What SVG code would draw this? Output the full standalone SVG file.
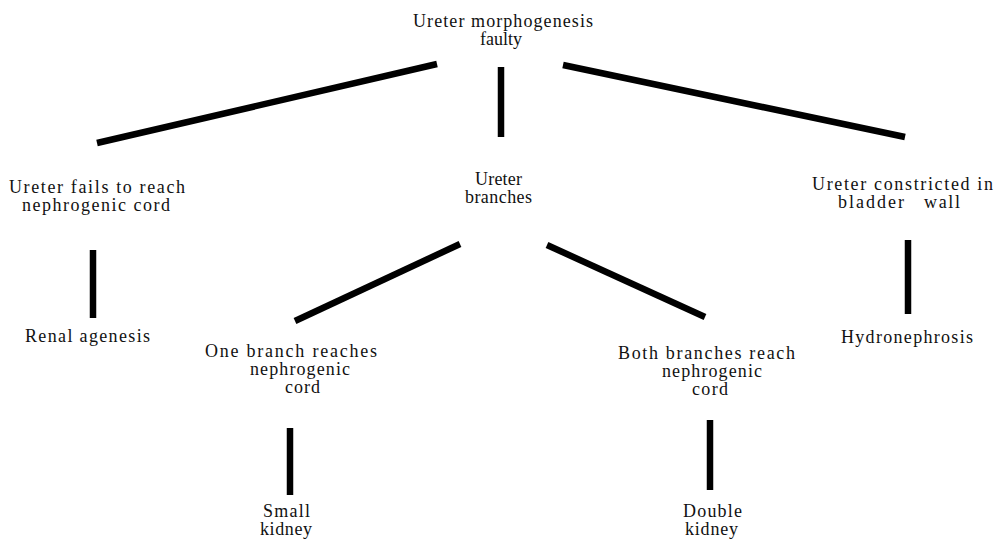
<svg xmlns="http://www.w3.org/2000/svg" width="1000" height="541" viewBox="0 0 1000 541">
<style>
text{font-family:"Liberation Serif","Times New Roman",serif;font-size:18px;fill:#111;}
.c line{stroke:#000;stroke-width:6.5;stroke-linecap:butt;}
</style>
<rect width="1000" height="541" fill="#fff"/>
<g class="c" id="connectors">
<line x1="97" y1="143" x2="437" y2="64"/>
<line x1="501" y1="67" x2="501" y2="137"/>
<line x1="563" y1="65" x2="905" y2="137"/>
<line x1="93" y1="250" x2="93" y2="318"/>
<line x1="295" y1="321" x2="460" y2="244"/>
<line x1="547" y1="245" x2="705" y2="317"/>
<line x1="908" y1="240" x2="908" y2="314"/>
<line x1="290" y1="428" x2="290" y2="495"/>
<line x1="710" y1="420" x2="710" y2="490"/>
</g>
<g id="root">
<text x="413" y="27" textLength="180" lengthAdjust="spacing">Ureter morphogenesis</text>
<text x="480" y="45" textLength="42" lengthAdjust="spacing">faulty</text>
</g>
<g id="fails">
<text x="9" y="193" textLength="176" lengthAdjust="spacing">Ureter fails to reach</text>
<text x="22" y="211" textLength="148" lengthAdjust="spacing">nephrogenic cord</text>
</g>
<g id="branches">
<text x="475" y="185" textLength="47" lengthAdjust="spacing">Ureter</text>
<text x="465" y="203" textLength="67" lengthAdjust="spacing">branches</text>
</g>
<g id="constricted">
<text x="812" y="190" textLength="181" lengthAdjust="spacing">Ureter constricted in</text>
<text y="208"><tspan x="838" textLength="66" lengthAdjust="spacing">bladder</tspan> <tspan x="924" textLength="36" lengthAdjust="spacing">wall</tspan></text>
</g>
<g id="agenesis">
<text x="25" y="342" textLength="125" lengthAdjust="spacing">Renal agenesis</text>
</g>
<g id="onebranch">
<text x="205" y="357" textLength="172" lengthAdjust="spacing">One branch reaches</text>
<text x="250" y="375" textLength="100" lengthAdjust="spacing">nephrogenic</text>
<text x="285" y="393" textLength="35" lengthAdjust="spacing">cord</text>
</g>
<g id="bothbranches">
<text x="618" y="359" textLength="177" lengthAdjust="spacing">Both branches reach</text>
<text x="662" y="377" textLength="100" lengthAdjust="spacing">nephrogenic</text>
<text x="692" y="395" textLength="36" lengthAdjust="spacing">cord</text>
</g>
<g id="hydro">
<text x="841" y="343" textLength="132" lengthAdjust="spacing">Hydronephrosis</text>
</g>
<g id="small">
<text x="263" y="517" textLength="47" lengthAdjust="spacing">Small</text>
<text x="260" y="535" textLength="52" lengthAdjust="spacing">kidney</text>
</g>
<g id="double">
<text x="683" y="517" textLength="59" lengthAdjust="spacing">Double</text>
<text x="685" y="535" textLength="53" lengthAdjust="spacing">kidney</text>
</g>
</svg>
